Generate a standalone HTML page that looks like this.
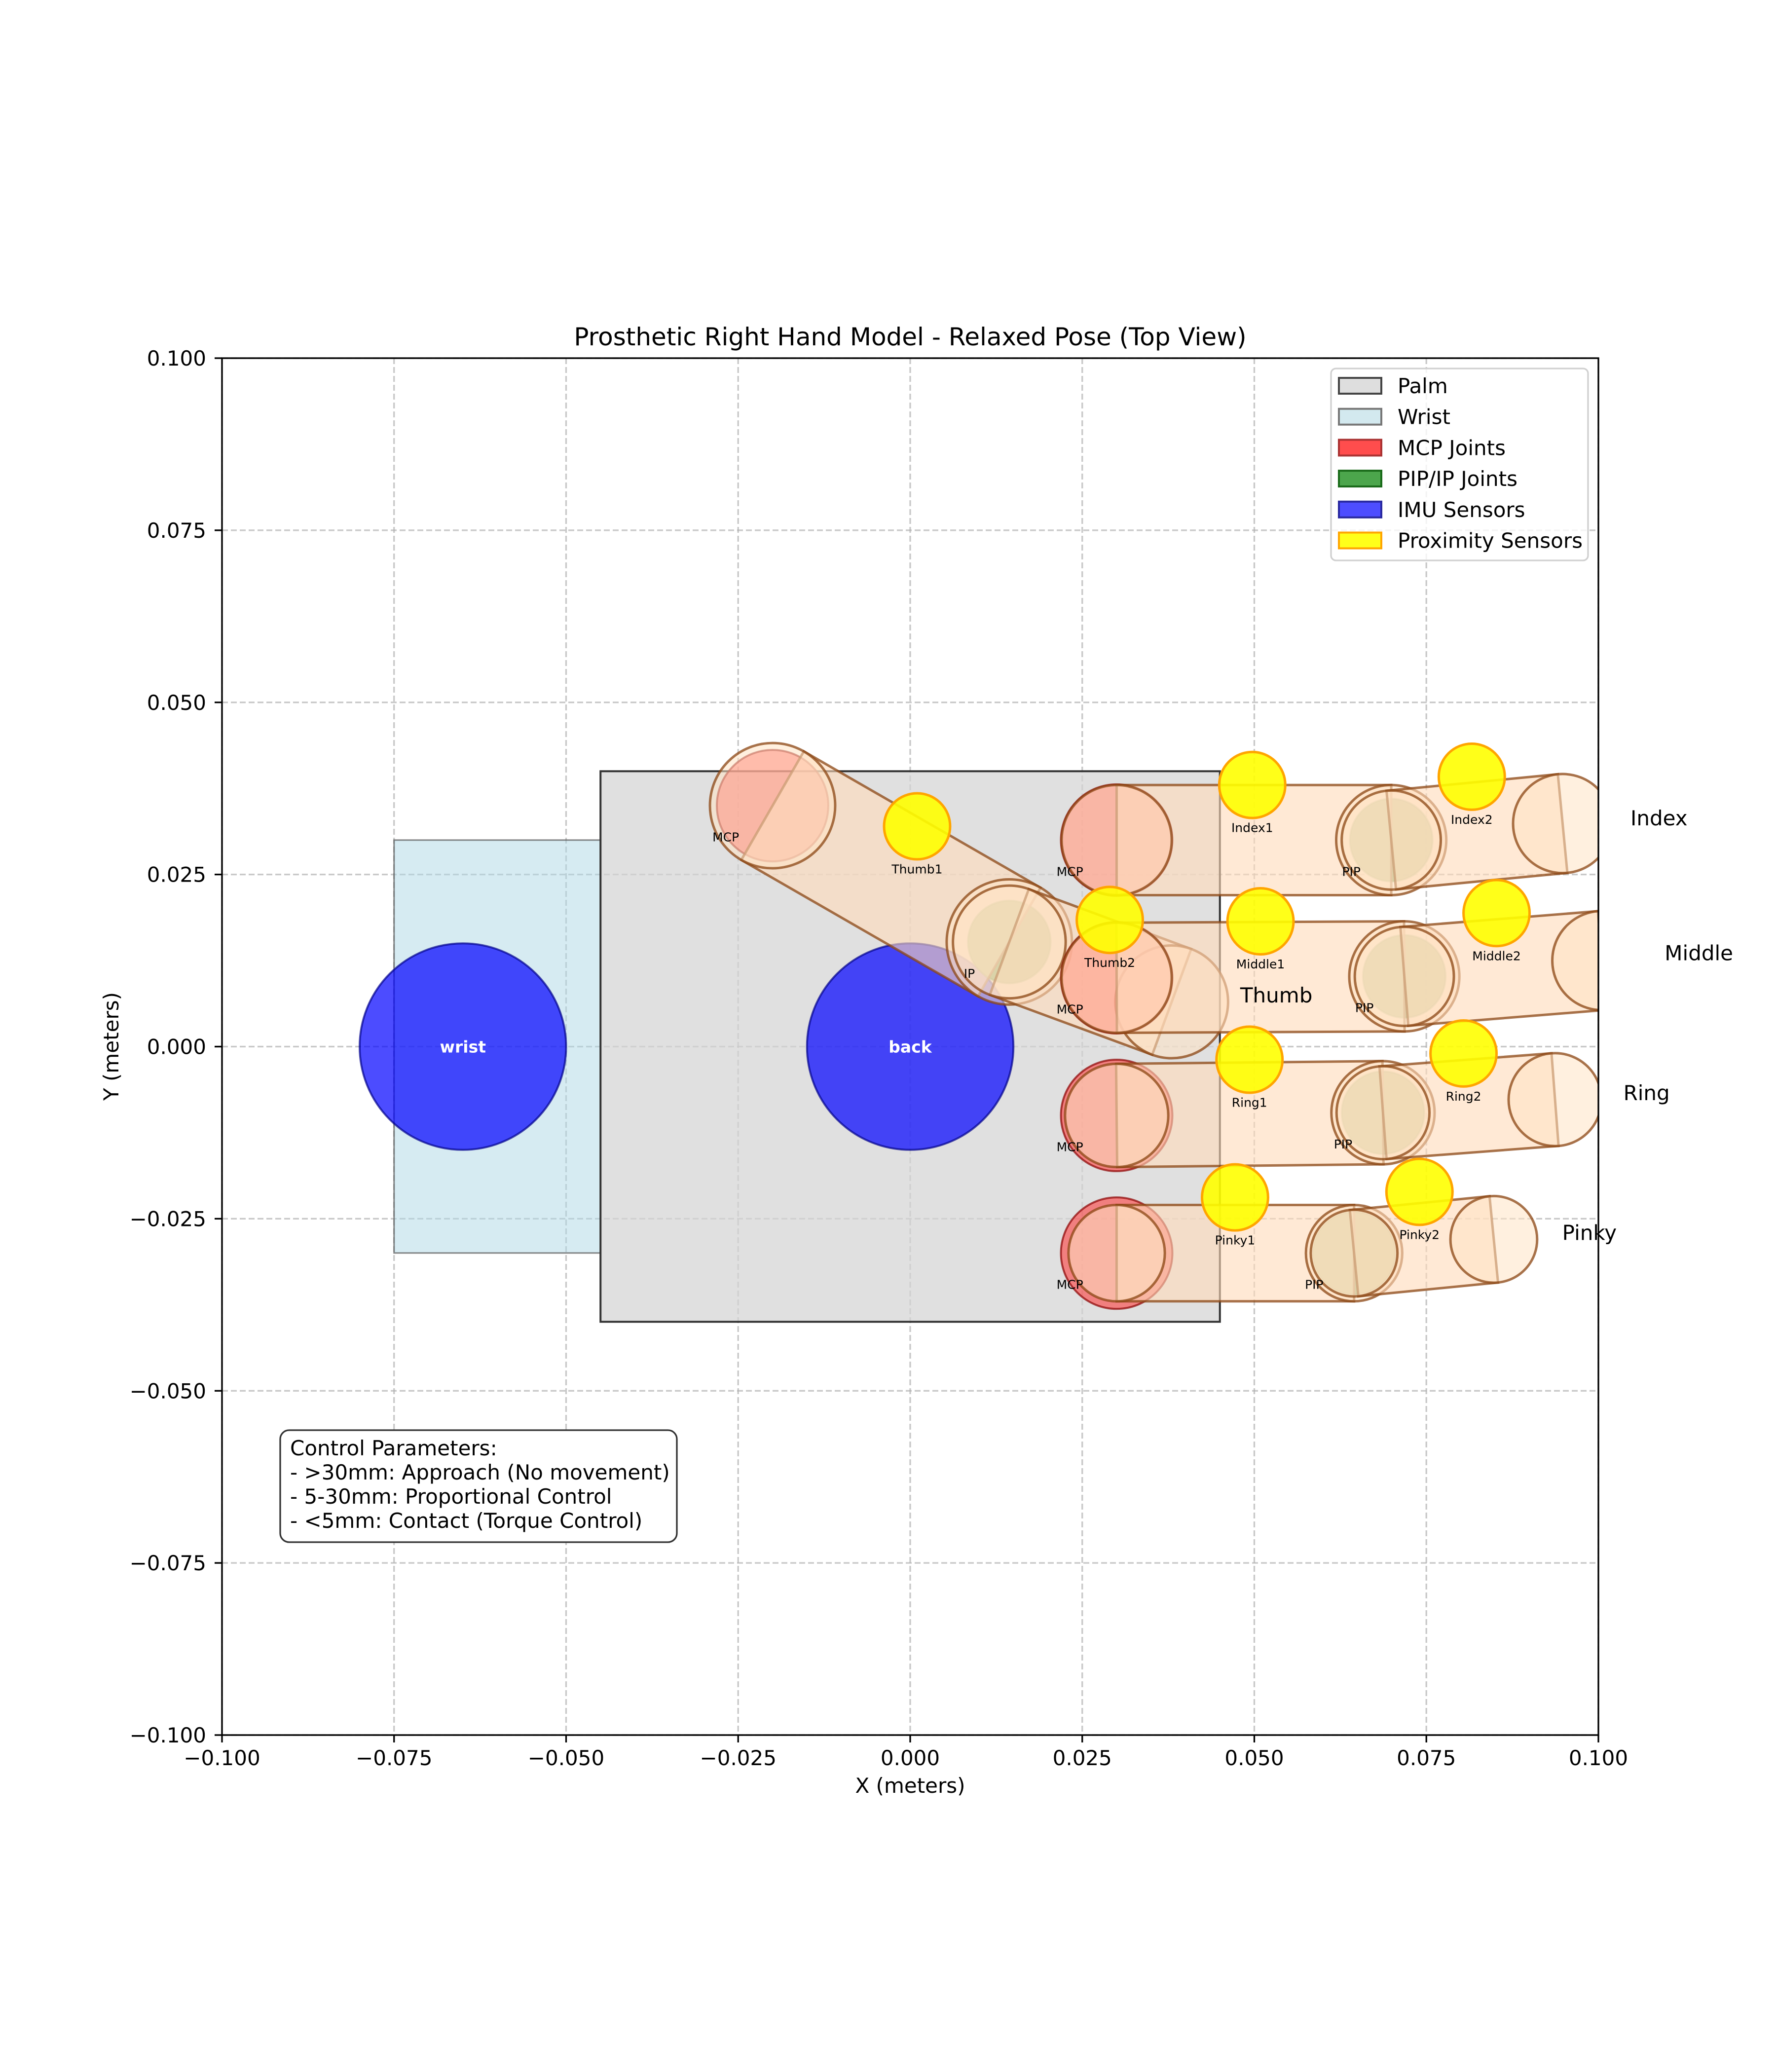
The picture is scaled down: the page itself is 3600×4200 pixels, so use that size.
<!DOCTYPE html>
<html><head><meta charset="utf-8"><style>
html,body{margin:0;padding:0;background:#fff}
svg{display:block;font-family:"DejaVu Sans","Liberation Sans",sans-serif}
</style></head><body>
<svg id="chart" width="3600" height="4200" viewBox="0 0 3600 4200" xmlns="http://www.w3.org/2000/svg">
<defs><clipPath id="plotclip"><rect x="450" y="726" width="2790" height="2791"/></clipPath></defs>
<rect width="3600" height="4200" fill="#fff"/>
<g id="grid"></g>
<g id="body" clip-path="url(#plotclip)"></g>
<g id="fingers" clip-path="url(#plotclip)"></g>
<g id="sensors" clip-path="url(#plotclip)"></g>
<g id="labels"></g>
<rect x="450" y="726" width="2790" height="2791" fill="none" stroke="#000" stroke-width="3.3"/>
<g id="axes"></g>
<text x="1845" y="700" font-size="50" text-anchor="middle">Prosthetic Right Hand Model - Relaxed Pose (Top View)</text>
<text x="1845" y="3634" font-size="42" text-anchor="middle">X (meters)</text>
<text x="240" y="2121" font-size="42" text-anchor="middle" transform="rotate(-90 240 2121)">Y (meters)</text>
<g>
<rect x="2698" y="747" width="521" height="389" rx="10" fill="#fff" fill-opacity="0.8" stroke="#d0d0d0" stroke-width="3.3"/>
<g id="legend"></g>
</g>
<g>
<rect x="568" y="2899" width="804" height="227" rx="18" fill="#fff" stroke="#333" stroke-width="3.3"/>
<text font-size="42">
<tspan x="588" y="2950">Control Parameters:</tspan>
<tspan x="588" y="2999">- &gt;30mm: Approach (No movement)</tspan>
<tspan x="588" y="3048">- 5-30mm: Proportional Control</tspan>
<tspan x="588" y="3097">- &lt;5mm: Contact (Torque Control)</tspan>
</text>
</g>
</svg>
<script>
// ---- data ----
const tickValues = [-0.1,-0.075,-0.05,-0.025,0,0.025,0.05,0.075,0.1];
const tickLabels = ["\u22120.100","\u22120.075","\u22120.050","\u22120.025","0.000","0.025","0.050","0.075","0.100"];
const fingerNames = ["Thumb","Index","Middle","Ring","Pinky"];
const fingerBaseX = [-0.020,0.030,0.030,0.030,0.030];
const fingerBaseY = [0.035,0.030,0.010,-0.010,-0.030];
const fingerMidX = [0.0144,0.0699,0.0718,0.0687,0.0645];
const fingerMidY = [0.0152,0.030,0.0102,-0.0096,-0.030];
const fingerTipX = [0.038,0.0948,0.1005,0.0937,0.0848];
const fingerTipY = [0.0065,0.0324,0.0125,-0.0077,-0.028];
const fingerRadius = [0.0091,0.008,0.008,0.0075,0.007];
const midLabels = ["IP","PIP","PIP","PIP","PIP"];
const nameLabelX = [0.0532,0.1088,0.1146,0.107,0.0987];
const nameLabelY = [0.0075,0.0332,0.0136,-0.0067,-0.027];
const sensorNames = ["Thumb1","Thumb2","Index1","Index2","Middle1","Middle2","Ring1","Ring2","Pinky1","Pinky2"];
const sensorX = [0.001,0.029,0.0497,0.0816,0.0509,0.0852,0.0493,0.0804,0.0472,0.074];
const sensorY = [0.032,0.0184,0.038,0.0392,0.0182,0.0194,-0.0019,-0.001,-0.0219,-0.0211];
const legendLabels = ["Palm","Wrist","MCP Joints","PIP/IP Joints","IMU Sensors","Proximity Sensors"];
const legendFills = ["#dedede","#d3e9ef","#ff4d4d","#4ca64c","#4d4dff","#ffff1a"];
const legendEdges = ["#444","#777","#a33","#1a6b1a","#2a2aa0","#ffa500"];

// ---- scales ----
const X = v => 450 + (v + 0.1) * 13950;
const Y = v => 726 + (0.1 - v) * 13955;
const S = d => d * 13950;
const NS = "http://www.w3.org/2000/svg";
function mk(parent, tag, attrs, text){
  const e = document.createElementNS(NS, tag);
  for (const k in attrs) e.setAttribute(k, attrs[k]);
  if (text !== undefined) e.textContent = text;
  parent.appendChild(e); return e;
}
const grid = document.getElementById('grid');
const axes = document.getElementById('axes');
const body = document.getElementById('body');
const fingers = document.getElementById('fingers');
const sensors = document.getElementById('sensors');
const labels = document.getElementById('labels');
const legend = document.getElementById('legend');

tickValues.forEach((v,i)=>{
  const gx = mk(grid,'line',{x1:X(v),x2:X(v),y1:726,y2:3517,stroke:'#b0b0b0','stroke-opacity':0.7,'stroke-width':3.3,'stroke-dasharray':'12 6'});
  
  
  const gy = mk(grid,'line',{x1:450,x2:3240,y1:Y(v),y2:Y(v),stroke:'#b0b0b0','stroke-opacity':0.7,'stroke-width':3.3,'stroke-dasharray':'12 6'});
  
  
  const tx = mk(axes,'line',{x1:X(v),x2:X(v),y1:3517,y2:3532,stroke:'#000','stroke-width':3.3});
  
  
  const lx = mk(axes,'text',{x:X(v),y:3578,'font-size':42,'text-anchor':'middle'},tickLabels[i]);
  
  
  const ty = mk(axes,'line',{x1:435,x2:450,y1:Y(v),y2:Y(v),stroke:'#000','stroke-width':3.3});
  
  
  const ly = mk(axes,'text',{x:418,y:Y(v)+15,'font-size':42,'text-anchor':'end'},tickLabels[i]);
  
  
});

const wr = mk(body,'rect',{x:X(-0.075),y:Y(0.03),width:S(0.03),height:S(0.06),fill:'#add8e6','fill-opacity':0.5,stroke:'#555','stroke-opacity':0.7,'stroke-width':3});


const pm = mk(body,'rect',{x:X(-0.045),y:Y(0.04),width:S(0.09),height:S(0.08),fill:'#d3d3d3','fill-opacity':0.7,stroke:'#333','stroke-width':4});


[[-0.065,'wrist'],[0,'back']].forEach(([cx,n])=>{
  const c = mk(body,'circle',{cx:X(cx),cy:Y(0),r:S(0.015),fill:'#0000ff','fill-opacity':0.7,stroke:'#00008b','stroke-opacity':0.7,'stroke-width':4});
  
  
  const t = mk(body,'text',{x:X(cx),y:Y(0)+12,'font-size':33,'font-weight':'bold',fill:'#fff','text-anchor':'middle'},n);
  
  
});

function segment(g, x1,y1,x2,y2,r1,r2){
  const px1=X(x1),py1=Y(y1),px2=X(x2),py2=Y(y2);
  const dx=px2-px1,dy=py2-py1,L=Math.hypot(dx,dy),nx=-dy/L,ny=dx/L;
  const a=S(r1),b=S(r2);
  const p = mk(g,'polygon',{points:`${px1+nx*a},${py1+ny*a} ${px2+nx*b},${py2+ny*b} ${px2-nx*b},${py2-ny*b} ${px1-nx*a},${py1-ny*a}`,fill:'#ffdab9','fill-opacity':0.6,stroke:'#8b4513','stroke-opacity':0.75,'stroke-width':5});
  
  
  const c1 = mk(g,'circle',{cx:px1,cy:py1,r:a,fill:'#ffe4c4','fill-opacity':0.55,stroke:'#8b4513','stroke-opacity':0.75,'stroke-width':5});
  
  
  const c2 = mk(g,'circle',{cx:px2,cy:py2,r:b,fill:'#ffe4c4','fill-opacity':0.55,stroke:'#8b4513','stroke-opacity':0.75,'stroke-width':5});
  
  
}

fingerNames.forEach((n,i)=>{
  const g = mk(fingers,'g',{});
  
  
  const mcp = mk(g,'circle',{cx:X(fingerBaseX[i]),cy:Y(fingerBaseY[i]),r:S(0.0081),fill:'#ff3030','fill-opacity':0.55,stroke:'#8b0000','stroke-opacity':0.7,'stroke-width':4});
  
  
  const pip = mk(g,'circle',{cx:X(fingerMidX[i]),cy:Y(fingerMidY[i]),r:S(0.006),fill:'#3a8a2a','fill-opacity':0.9,stroke:'#006400','stroke-opacity':0.5,'stroke-width':4});
  
  
  const r = fingerRadius[i];
  segment(g, fingerBaseX[i],fingerBaseY[i],fingerMidX[i],fingerMidY[i], r, r);
  segment(g, fingerMidX[i],fingerMidY[i],fingerTipX[i],fingerTipY[i], r*0.9, r*0.9);
  const t1 = mk(labels,'text',{x:X(fingerBaseX[i]-0.0068),y:Y(fingerBaseY[i]-0.0052),'font-size':25,'text-anchor':'middle'},'MCP');
  
  
  const t2 = mk(labels,'text',{x:X(fingerMidX[i]-0.0058),y:Y(fingerMidY[i]-0.0052),'font-size':25,'text-anchor':'middle'},midLabels[i]);
  
  
  const t3 = mk(labels,'text',{x:X(nameLabelX[i]),y:Y(nameLabelY[i])+15,'font-size':42,'text-anchor':'middle'},n);
  
  
});

sensorNames.forEach((n,i)=>{
  const c = mk(sensors,'circle',{cx:X(sensorX[i]),cy:Y(sensorY[i]),r:S(0.0048),fill:'#ffff00','fill-opacity':0.9,stroke:'#ffa500','stroke-width':5});
  
  
  const t = mk(labels,'text',{x:X(sensorX[i]),y:Y(sensorY[i]-0.0062)+9,'font-size':25,'text-anchor':'middle'},n);
  
  
});

legendLabels.forEach((l,i)=>{
  const y = 782 + i*62.7;
  const p = mk(legend,'rect',{x:2714,y:y-16,width:86,height:32,fill:legendFills[i],stroke:legendEdges[i],'stroke-width':4});
  
  
  const t = mk(legend,'text',{x:2833,y:y+15,'font-size':42},l);
  
  
});
</script>
</body></html>
